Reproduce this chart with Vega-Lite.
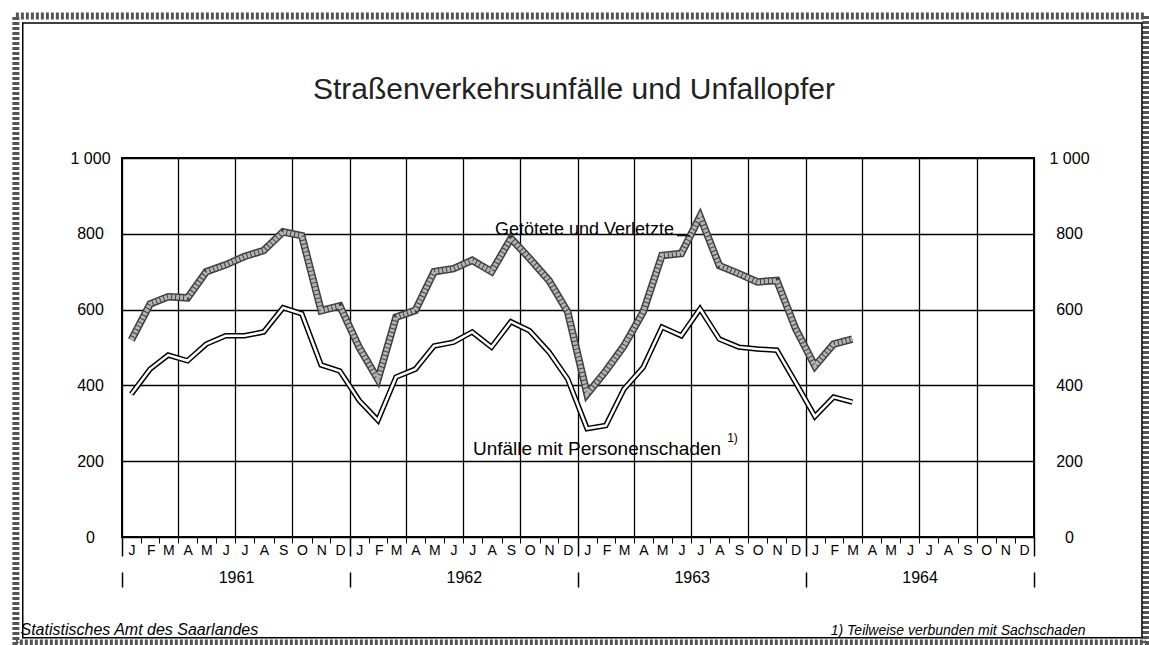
{
  "$schema": "https://vega.github.io/schema/vega-lite/v6.json",
  "width": 912,
  "height": 379,
  "autosize": {"type": "none"},
  "padding": {"left": 122, "top": 158, "right": 115, "bottom": 108},
  "background": "white",
  "config": {
    "view": {"stroke": "black", "strokeWidth": 2},
    "font": "Liberation Sans"
  },
  "data": {
    "values": [
      {"month": "1961-01-16", "series": "Unfälle mit Personenschaden", "value": 377},
      {"month": "1961-02-15", "series": "Unfälle mit Personenschaden", "value": 443},
      {"month": "1961-03-16", "series": "Unfälle mit Personenschaden", "value": 480},
      {"month": "1961-04-16", "series": "Unfälle mit Personenschaden", "value": 465},
      {"month": "1961-05-16", "series": "Unfälle mit Personenschaden", "value": 509},
      {"month": "1961-06-16", "series": "Unfälle mit Personenschaden", "value": 531},
      {"month": "1961-07-16", "series": "Unfälle mit Personenschaden", "value": 531},
      {"month": "1961-08-16", "series": "Unfälle mit Personenschaden", "value": 541},
      {"month": "1961-09-16", "series": "Unfälle mit Personenschaden", "value": 605},
      {"month": "1961-10-16", "series": "Unfälle mit Personenschaden", "value": 589},
      {"month": "1961-11-16", "series": "Unfälle mit Personenschaden", "value": 454},
      {"month": "1961-12-16", "series": "Unfälle mit Personenschaden", "value": 438},
      {"month": "1962-01-16", "series": "Unfälle mit Personenschaden", "value": 360},
      {"month": "1962-02-15", "series": "Unfälle mit Personenschaden", "value": 308},
      {"month": "1962-03-16", "series": "Unfälle mit Personenschaden", "value": 422},
      {"month": "1962-04-16", "series": "Unfälle mit Personenschaden", "value": 443},
      {"month": "1962-05-16", "series": "Unfälle mit Personenschaden", "value": 504},
      {"month": "1962-06-16", "series": "Unfälle mit Personenschaden", "value": 514},
      {"month": "1962-07-16", "series": "Unfälle mit Personenschaden", "value": 541},
      {"month": "1962-08-16", "series": "Unfälle mit Personenschaden", "value": 501},
      {"month": "1962-09-16", "series": "Unfälle mit Personenschaden", "value": 568},
      {"month": "1962-10-16", "series": "Unfälle mit Personenschaden", "value": 544},
      {"month": "1962-11-16", "series": "Unfälle mit Personenschaden", "value": 488},
      {"month": "1962-12-16", "series": "Unfälle mit Personenschaden", "value": 417},
      {"month": "1963-01-16", "series": "Unfälle mit Personenschaden", "value": 286},
      {"month": "1963-02-15", "series": "Unfälle mit Personenschaden", "value": 294},
      {"month": "1963-03-16", "series": "Unfälle mit Personenschaden", "value": 390},
      {"month": "1963-04-16", "series": "Unfälle mit Personenschaden", "value": 448},
      {"month": "1963-05-16", "series": "Unfälle mit Personenschaden", "value": 554},
      {"month": "1963-06-16", "series": "Unfälle mit Personenschaden", "value": 531},
      {"month": "1963-07-16", "series": "Unfälle mit Personenschaden", "value": 602},
      {"month": "1963-08-16", "series": "Unfälle mit Personenschaden", "value": 522},
      {"month": "1963-09-16", "series": "Unfälle mit Personenschaden", "value": 501},
      {"month": "1963-10-16", "series": "Unfälle mit Personenschaden", "value": 496},
      {"month": "1963-11-16", "series": "Unfälle mit Personenschaden", "value": 493},
      {"month": "1963-12-16", "series": "Unfälle mit Personenschaden", "value": 408},
      {"month": "1964-01-16", "series": "Unfälle mit Personenschaden", "value": 318},
      {"month": "1964-02-15", "series": "Unfälle mit Personenschaden", "value": 369},
      {"month": "1964-03-16", "series": "Unfälle mit Personenschaden", "value": 356},
      {"month": "1961-01-16", "series": "Getötete und Verletzte", "value": 520},
      {"month": "1961-02-15", "series": "Getötete und Verletzte", "value": 615},
      {"month": "1961-03-16", "series": "Getötete und Verletzte", "value": 634},
      {"month": "1961-04-16", "series": "Getötete und Verletzte", "value": 631},
      {"month": "1961-05-16", "series": "Getötete und Verletzte", "value": 700},
      {"month": "1961-06-16", "series": "Getötete und Verletzte", "value": 718},
      {"month": "1961-07-16", "series": "Getötete und Verletzte", "value": 740},
      {"month": "1961-08-16", "series": "Getötete und Verletzte", "value": 756},
      {"month": "1961-09-16", "series": "Getötete und Verletzte", "value": 805},
      {"month": "1961-10-16", "series": "Getötete und Verletzte", "value": 795},
      {"month": "1961-11-16", "series": "Getötete und Verletzte", "value": 597},
      {"month": "1961-12-16", "series": "Getötete und Verletzte", "value": 610},
      {"month": "1962-01-16", "series": "Getötete und Verletzte", "value": 500},
      {"month": "1962-02-15", "series": "Getötete und Verletzte", "value": 416},
      {"month": "1962-03-16", "series": "Getötete und Verletzte", "value": 580},
      {"month": "1962-04-16", "series": "Getötete und Verletzte", "value": 598},
      {"month": "1962-05-16", "series": "Getötete und Verletzte", "value": 700},
      {"month": "1962-06-16", "series": "Getötete und Verletzte", "value": 708},
      {"month": "1962-07-16", "series": "Getötete und Verletzte", "value": 730},
      {"month": "1962-08-16", "series": "Getötete und Verletzte", "value": 700},
      {"month": "1962-09-16", "series": "Getötete und Verletzte", "value": 788},
      {"month": "1962-10-16", "series": "Getötete und Verletzte", "value": 735},
      {"month": "1962-11-16", "series": "Getötete und Verletzte", "value": 677},
      {"month": "1962-12-16", "series": "Getötete und Verletzte", "value": 594},
      {"month": "1963-01-16", "series": "Getötete und Verletzte", "value": 377},
      {"month": "1963-02-15", "series": "Getötete und Verletzte", "value": 438},
      {"month": "1963-03-16", "series": "Getötete und Verletzte", "value": 504},
      {"month": "1963-04-16", "series": "Getötete und Verletzte", "value": 594},
      {"month": "1963-05-16", "series": "Getötete und Verletzte", "value": 743},
      {"month": "1963-06-16", "series": "Getötete und Verletzte", "value": 748},
      {"month": "1963-07-16", "series": "Getötete und Verletzte", "value": 846},
      {"month": "1963-08-16", "series": "Getötete und Verletzte", "value": 716},
      {"month": "1963-09-16", "series": "Getötete und Verletzte", "value": 695},
      {"month": "1963-10-16", "series": "Getötete und Verletzte", "value": 673},
      {"month": "1963-11-16", "series": "Getötete und Verletzte", "value": 677},
      {"month": "1963-12-16", "series": "Getötete und Verletzte", "value": 550},
      {"month": "1964-01-16", "series": "Getötete und Verletzte", "value": 451},
      {"month": "1964-02-15", "series": "Getötete und Verletzte", "value": 509},
      {"month": "1964-03-16", "series": "Getötete und Verletzte", "value": 522}
    ]
  },
  "layer": [
    {
      "transform": [{"filter": "datum.series == 'Unfälle mit Personenschaden'"}],
      "mark": {"type": "line", "stroke": "black", "strokeWidth": 5.5, "strokeJoin": "miter"},
      "encoding": {
        "x": {
          "field": "month", "type": "temporal",
          "scale": {"type": "utc", "domain": [{"year": 1961, "month": 1, "date": 1, "utc": true}, {"year": 1965, "month": 1, "date": 1, "utc": true}], "nice": false},
          "axis": {
            "orient": "bottom",
            "tickCount": {"interval": "month", "step": 1},
            "labelExpr": "utcyear(datum.value) > 1964 ? '' : slice(utcFormat(datum.value, '%b'), 0, 1)",
            "labelOffset": 9.5,
            "labelAlign": "center",
            "labelBaseline": "top",
            "labelPadding": 0,
            "labelFlush": false,
            "labelOverlap": false,
            "labelBound": false,
            "labelFontSize": 14,
            "labelColor": "black",
            "labelFont": "Liberation Sans",
            "ticks": true,
            "tickSize": 6,
            "tickColor": "black",
            "tickWidth": 1,
            "domain": false,
            "grid": true,
            "gridColor": "black",
            "gridWidth": 1.3,
            "gridOpacity": {"condition": {"test": "utcmonth(datum.value) % 3 == 0", "value": 1}, "value": 0},
            "title": "1) Teilweise verbunden mit Sachschaden",
            "titleX": 963,
            "titleY": 97,
            "titleAlign": "right",
            "titleBaseline": "alphabetic",
            "titleFontStyle": "italic",
            "titleFontWeight": "normal",
            "titleFontSize": 14,
            "titleFont": "Liberation Sans",
            "titleColor": "black"
          }
        },
        "y": {
          "field": "value", "type": "quantitative",
          "scale": {"domain": [0, 1000], "nice": false},
          "axis": {
            "orient": "left",
            "values": [0, 200, 400, 600, 800, 1000],
            "labelExpr": "datum.value == 1000 ? '1 000' : datum.label",
            "labelAlign": "center",
            "labelBaseline": "middle",
            "labelPadding": 32,
            "labelFontSize": 16,
            "labelColor": "black",
            "labelFont": "Liberation Sans",
            "ticks": false,
            "tickSize": 0,
            "domain": false,
            "grid": true,
            "gridColor": "black",
            "gridWidth": 1.3,
            "title": null
          }
        }
      }
    },
    {
      "transform": [{"filter": "datum.series == 'Unfälle mit Personenschaden'"}],
      "mark": {"type": "line", "stroke": "white", "strokeWidth": 2.5, "strokeJoin": "miter"},
      "encoding": {
        "x": {
          "field": "month", "type": "temporal",
          "axis": {
            "orient": "bottom",
            "tickCount": {"interval": "year", "step": 1},
            "labelExpr": "utcyear(datum.value) > 1964 ? '' : utcFormat(datum.value, '%Y')",
            "labelOffset": 114,
            "labelAlign": "center",
            "labelBaseline": "top",
            "labelPadding": -18,
            "labelFlush": false,
            "labelOverlap": false,
            "labelBound": false,
            "labelFontSize": 16,
            "labelColor": "black",
            "labelFont": "Liberation Sans",
            "ticks": true,
            "tickSize": 50,
            "tickColor": "black",
            "tickWidth": 1.5,
            "tickDash": [19, 16, 15],
            "domain": false,
            "grid": false,
            "title": "Statistisches Amt des Saarlandes",
            "titleX": -102,
            "titleY": 97,
            "titleAlign": "left",
            "titleBaseline": "alphabetic",
            "titleFontStyle": "italic",
            "titleFontWeight": "normal",
            "titleFontSize": 16,
            "titleFont": "Liberation Sans",
            "titleColor": "black"
          }
        },
        "y": {
          "field": "value", "type": "quantitative",
          "axis": {
            "orient": "right",
            "values": [0, 200, 400, 600, 800, 1000],
            "labelExpr": "datum.value == 1000 ? '1 000' : datum.label",
            "labelAlign": "center",
            "labelBaseline": "middle",
            "labelPadding": 35,
            "labelFontSize": 16,
            "labelColor": "black",
            "labelFont": "Liberation Sans",
            "ticks": false,
            "tickSize": 0,
            "domain": false,
            "grid": false,
            "title": null
          }
        }
      }
    },
    {
      "transform": [{"filter": "datum.series == 'Getötete und Verletzte'"}],
      "mark": {"type": "line", "stroke": "#404040", "strokeWidth": 7.5, "strokeJoin": "miter"},
      "encoding": {
        "x": {"field": "month", "type": "temporal", "axis": null},
        "y": {"field": "value", "type": "quantitative", "axis": null}
      }
    },
    {
      "transform": [{"filter": "datum.series == 'Getötete und Verletzte'"}],
      "mark": {"type": "line", "stroke": "#b4b4b4", "strokeWidth": 4.5, "strokeDash": [3, 1], "strokeJoin": "miter"},
      "encoding": {
        "x": {"field": "month", "type": "temporal", "axis": null},
        "y": {"field": "value", "type": "quantitative", "axis": null}
      }
    },
    {
      "data": {"values": [{}]},
      "mark": {"type": "text", "text": "Straßenverkehrsunfälle und Unfallopfer", "fontSize": 30, "font": "Liberation Sans", "align": "center", "baseline": "alphabetic", "color": "#222222"},
      "encoding": {
        "x": {"datum": {"year": 1962, "month": 12, "date": 26, "utc": true}, "type": "temporal", "axis": null},
        "y": {"datum": 1156, "type": "quantitative", "axis": null}
      }
    },
    {
      "data": {"values": [{}]},
      "mark": {"type": "text", "text": "Getötete und Verletzte", "fontSize": 18, "font": "Liberation Sans", "align": "center", "baseline": "alphabetic", "color": "black"},
      "encoding": {
        "x": {"datum": {"year": 1963, "month": 1, "date": 12, "utc": true}, "type": "temporal", "axis": null},
        "y": {"datum": 797, "type": "quantitative", "axis": null}
      }
    },
    {
      "data": {"values": [{}]},
      "mark": {"type": "rule", "stroke": "black", "strokeWidth": 1.2},
      "encoding": {
        "x": {"datum": {"year": 1963, "month": 6, "date": 9, "utc": true}, "type": "temporal", "axis": null},
        "x2": {"datum": {"year": 1963, "month": 6, "date": 30, "utc": true}},
        "y": {"datum": 795, "type": "quantitative", "axis": null}
      }
    },
    {
      "data": {"values": [{}]},
      "mark": {"type": "text", "text": "Unfälle mit Personenschaden", "fontSize": 19, "font": "Liberation Sans", "align": "center", "baseline": "alphabetic", "color": "black"},
      "encoding": {
        "x": {"datum": {"year": 1963, "month": 2, "date": 1, "utc": true}, "type": "temporal", "axis": null},
        "y": {"datum": 216, "type": "quantitative", "axis": null}
      }
    },
    {
      "data": {"values": [{}]},
      "mark": {"type": "text", "text": "1)", "fontSize": 12, "font": "Liberation Sans", "align": "center", "baseline": "alphabetic", "color": "black"},
      "encoding": {
        "x": {"datum": {"year": 1963, "month": 9, "date": 6, "utc": true}, "type": "temporal", "axis": null},
        "y": {"datum": 250, "type": "quantitative", "axis": null}
      }
    },
    {
      "data": {"values": [{}]},
      "mark": {"type": "rect", "filled": false, "stroke": "#555555", "strokeWidth": 7, "strokeDash": [3, 2]},
      "encoding": {
        "x": {"datum": {"year": 1960, "month": 7, "date": 15, "utc": true}, "type": "temporal", "axis": null},
        "x2": {"datum": {"year": 1965, "month": 6, "date": 29, "utc": true}},
        "y": {"datum": 1375, "type": "quantitative", "axis": null},
        "y2": {"datum": -280}
      }
    },
    {
      "data": {"values": [{}]},
      "mark": {"type": "rect", "filled": false, "stroke": "black", "strokeWidth": 1.5},
      "encoding": {
        "x": {"datum": {"year": 1960, "month": 7, "date": 26, "utc": true}, "type": "temporal", "axis": null},
        "x2": {"datum": {"year": 1965, "month": 6, "date": 23, "utc": true}},
        "y": {"datum": 1356, "type": "quantitative", "axis": null},
        "y2": {"datum": -266}
      }
    }
  ],
  "resolve": {"axis": {"x": "independent", "y": "independent"}}
}
